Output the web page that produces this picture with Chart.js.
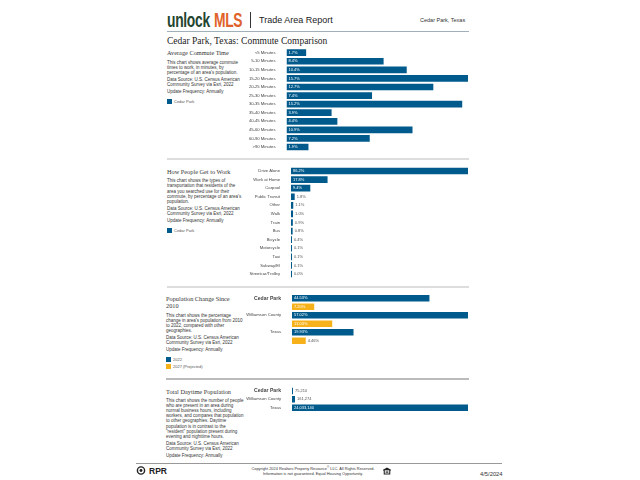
<!DOCTYPE html>
<html><head><meta charset="utf-8">
<script src="https://cdn.jsdelivr.net/npm/chart.js@4"></script>
<style>
html,body{margin:0;padding:0;background:#fff;width:640px;height:480px;overflow:hidden}
body{position:relative;font-family:"Liberation Sans",Arial,sans-serif;color:#222}
.a{position:absolute;white-space:nowrap}
.hr{position:absolute;height:1px;background:#c9c9c9}
.h{position:absolute;white-space:nowrap;font-family:"Liberation Serif",serif;color:#333;font-size:6.3px;line-height:7px}
.p{position:absolute;white-space:nowrap;font-size:4.5px;line-height:5.15px;color:#333}
.sw{position:absolute;width:5px;height:5px;background:#005a8c}
.lg{position:absolute;white-space:nowrap;font-size:4px;color:#555;line-height:5px}
canvas{position:absolute}
</style></head><body>
<div class="a" style="left:167px;top:8px;font:bold 20px/24px 'Liberation Sans';color:#23452f;transform:scaleX(.69);transform-origin:0 0;letter-spacing:-.4px">unlock</div>
<div class="a" style="left:214px;top:8px;font:bold 20px/24px 'Liberation Sans';color:#e0622a;transform:scaleX(.69);transform-origin:0 0;letter-spacing:-.4px">MLS</div>
<div class="a" style="left:250px;top:12px;width:1px;height:16px;background:#333"></div>
<div class="a" style="left:259px;top:14px;font-size:9px;line-height:12px;color:#222">Trade Area Report</div>
<div class="a" style="left:420px;top:16px;font-size:5.5px;line-height:8px;color:#333">Cedar Park, Texas</div>
<div class="hr" style="left:167px;top:31px;width:302px;background:#9fb0ba"></div>
<div class="a" style="left:167px;top:35px;font:9.5px/12px 'Liberation Serif',serif;color:#222">Cedar Park, Texas: Commute Comparison</div>

<div class="h" style="left:167px;top:49px">Average Commute Time</div>
<div class="p" style="left:167px;top:59.8px">This chart shows average commute<br>times to work, in minutes, by<br>percentage of an area's population.</div>
<div class="p" style="left:167px;top:76.8px">Data Source: U.S. Census American<br>Community Survey via Esri, 2022</div>
<div class="p" style="left:167px;top:88.8px">Update Frequency: Annually</div>
<div class="sw" style="left:167px;top:99px"></div><div class="lg" style="left:174px;top:99px">Cedar Park</div>
<div class="hr" style="left:167px;top:158px;width:302px;height:2px;background:#ddd"></div>

<div class="h" style="left:167px;top:167.5px">How People Get to Work</div>
<div class="p" style="left:167px;top:178.2px">This chart shows the types of<br>transportation that residents of the<br>area you searched use for their<br>commute, by percentage of an area's<br>population.</div>
<div class="p" style="left:167px;top:205.5px">Data Source: U.S. Census American<br>Community Survey via Esri, 2022</div>
<div class="p" style="left:167px;top:217.8px">Update Frequency: Annually</div>
<div class="sw" style="left:167px;top:228px"></div><div class="lg" style="left:174px;top:228px">Cedar Park</div>
<div class="hr" style="left:167px;top:286px;width:302px;height:2px;background:#ddd"></div>

<div class="h" style="left:166px;top:295.2px">Population Change Since<br>2010</div>
<div class="p" style="left:166px;top:312.5px">This chart shows the percentage<br>change in area's population from 2010<br>to 2022, compared with other<br>geographies.</div>
<div class="p" style="left:166px;top:335px">Data Source: U.S. Census American<br>Community Survey via Esri, 2022</div>
<div class="p" style="left:166px;top:347.2px">Update Frequency: Annually</div>
<div class="sw" style="left:166px;top:357px"></div><div class="lg" style="left:173px;top:357px">2022</div>
<div class="sw" style="left:166px;top:364px;background:#f7b21b"></div><div class="lg" style="left:173px;top:364px">2027 (Projected)</div>
<div class="hr" style="left:166px;top:378px;width:303px;height:2px;background:#bbb"></div>

<div class="h" style="left:166px;top:387.5px">Total Daytime Population</div>
<div class="p" style="left:166px;top:397.8px">This chart shows the number of people<br>who are present in an area during<br>normal business hours, including<br>workers, and compares that population<br>to other geographies. Daytime<br>population is in contrast to the<br>"resident" population present during<br>evening and nighttime hours.</div>
<div class="p" style="left:166px;top:441.2px">Data Source: U.S. Census American<br>Community Survey via Esri, 2022</div>
<div class="p" style="left:166px;top:453.2px">Update Frequency: Annually</div>
<div class="hr" style="left:136px;top:463px;width:366px;background:#999"></div>

<svg class="a" style="left:136px;top:466px" width="10" height="9" viewBox="0 0 10 10"><circle cx="5" cy="5" r="4" fill="none" stroke="#222" stroke-width="1.6"/><circle cx="5" cy="5" r="1.6" fill="#222"/></svg>
<div class="a" style="left:149px;top:465.5px;font:bold 8.5px/11px 'Liberation Sans';color:#222">RPR</div>
<div class="a" style="left:233px;top:466.5px;width:160px;text-align:center;font-size:3.9px;line-height:4.7px;color:#333;white-space:normal">Copyright 2024 Realtors Property Resource<sup style="font-size:3px;line-height:0">®</sup> LLC. All Rights Reserved.<br>Information is not guaranteed. Equal Housing Opportunity.</div>
<svg class="a" style="left:382px;top:467px" width="10" height="8" viewBox="0 0 10 9"><path d="M5 .5 .5 3v1H1.3v4.5h7.4V4h.8V3zM2.5 3.6h5v3.8h-5z" fill="#222" fill-rule="evenodd"/><rect x="3.5" y="4.3" width="3" height=".8" fill="#222"/><rect x="3.5" y="5.7" width="3" height=".8" fill="#222"/></svg>
<div class="a" style="left:480px;top:470px;font-size:5.8px;line-height:8px;color:#333">4/5/2024</div>

<canvas id="c1" style="left:240px;top:48px"></canvas>
<canvas id="c2" style="left:240px;top:166px"></canvas>
<canvas id="c3" style="left:240px;top:294px"></canvas>
<canvas id="c4" style="left:240px;top:386px"></canvas>

<script>
const commuteLabels=['<5 Minutes','5-10 Minutes','10-15 Minutes','15-20 Minutes','20-25 Minutes','25-30 Minutes','30-35 Minutes','35-40 Minutes','40-45 Minutes','45-60 Minutes','60-90 Minutes','>90 Minutes'];
const commuteValues=[1.7,8.4,10.4,15.7,12.7,7.4,15.2,3.9,4.4,10.9,7.2,1.9];
const workLabels=['Drive Alone','Work at Home','Carpool','Public Transit','Other','Walk','Train','Bus','Bicycle','Motorcycle','Taxi','Subway/El','Streetcar/Trolley'];
const workValues=[86.2,17.8,9.4,1.8,1.1,1.0,0.9,0.8,0.4,0.1,0.1,0.1,0.0];
const popLabels=['Cedar Park','Williamson County','Texas'];
const pop2022=[44.53,57.02,19.93];
const pop2027=[7.2,13.03,4.46];
const dayLabels=['Cedar Park','Williamson County','Texas'];
const dayValues=[75210,161274,24033140];

const BLUE='#005a8c',GOLD='#f7b21b';
const valueLabels={id:'valueLabels',afterDatasetsDraw(ch,_,o){
  const c=ch.ctx;c.save();c.font='4px "Liberation Sans"';c.textBaseline='middle';c.textAlign='left';
  ch.data.datasets.forEach((d,i)=>{ch.getDatasetMeta(i).data.forEach((b,j)=>{
    if(d.data[j]==null)return;
    const w=b.x-b.base,t=o.fmt(d.data[j]),tw=c.measureText(t).width;
    if(w>tw+3){c.fillStyle='#fff';c.fillText(t,b.base+2,b.y);}
    else{c.fillStyle='#555';c.fillText(t,b.x+2,b.y);}
  });});c.restore();}};
function make(id,w,h,labels,datasets,xMax,fmt,o){
  const el=document.getElementById(id);
  el.width=w;el.height=h;
  return new Chart(el,{type:'bar',data:{labels,datasets},plugins:[valueLabels],options:{
    indexAxis:'y',responsive:false,animation:false,
    layout:{autoPadding:false,padding:{left:0,right:0,top:o.top,bottom:o.bottom}},
    plugins:{legend:{display:false},tooltip:{enabled:false},valueLabels:{fmt}},
    scales:{
      x:{min:0,max:xMax,display:false},
      y:{afterFit(s){s.width=o.left;s.paddingTop=0;s.paddingBottom=0},grid:{display:false},border:{display:false},
         ticks:{autoSkip:false,padding:3,color:'#444',labelOffset:o.labelOffset||0,
           font:c=>({family:'Liberation Sans',size:o.bold&&c.index===0?5.1:4.2,weight:o.bold&&c.index===0?'bold':'normal'})}}
    }}});
}
const pct=v=>v.toFixed(1)+'%',pct2=v=>v.toFixed(2)+'%',num=v=>v.toLocaleString('en-US');
const bar={backgroundColor:BLUE,categoryPercentage:.78,barPercentage:1};
make('c1',228,104,commuteLabels,[{data:commuteValues,...bar}],15.7,pct,{left:46.5,top:.4,bottom:.7});
make('c2',228,113,workLabels,[{data:workValues,...bar,minBarLength:1}],86.2,pct,{left:51,top:.7,bottom:.7});
make('c3',228,52,popLabels,[
  {data:pop2022,backgroundColor:BLUE,categoryPercentage:1,barPercentage:.76},
  {data:pop2027,backgroundColor:GOLD,categoryPercentage:1,barPercentage:.76}],57.02,pct2,{left:52,top:0,bottom:1,bold:true,labelOffset:-4.25});
make('c4',228,26,dayLabels,[
  {data:dayValues.map(v=>v===161274?null:v),...bar,grouped:false,minBarLength:1},
  {data:dayValues.map(v=>v===161274?v:null),...bar,grouped:false,minBarLength:3}],24033140,num,{left:52,top:.8,bottom:.2,bold:true});
</script>
</body></html>
